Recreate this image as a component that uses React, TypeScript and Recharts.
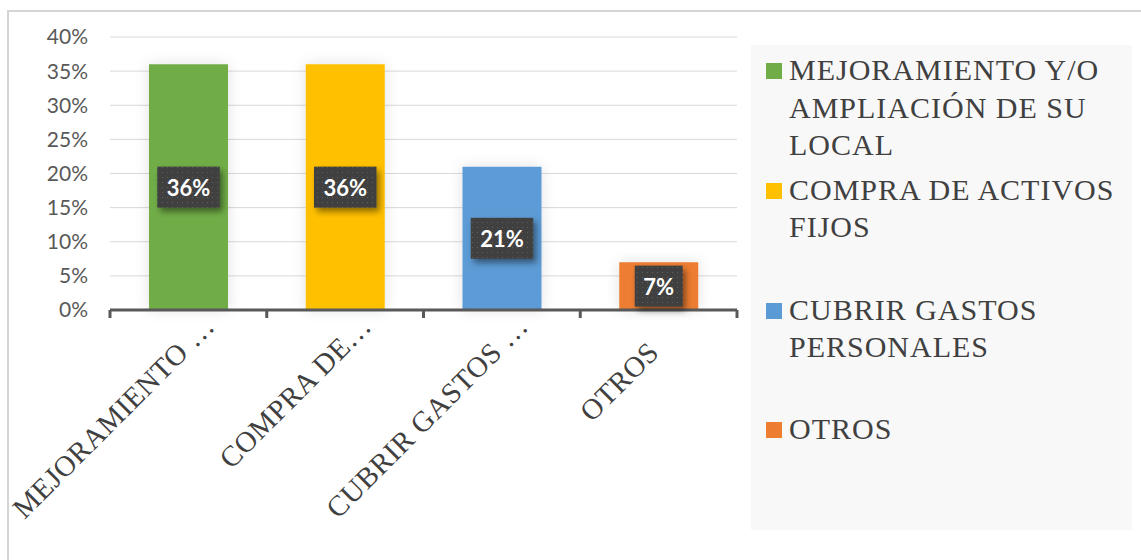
import { Bar, BarChart, CartesianGrid, LabelList, Rectangle, XAxis, YAxis } from "recharts";

const categories = [
  "MEJORAMIENTO Y/O AMPLIACIÓN DE SU LOCAL",
  "COMPRA DE ACTIVOS FIJOS",
  "CUBRIR GASTOS PERSONALES",
  "OTROS",
];
const tickLabels = ["MEJORAMIENTO …", "COMPRA DE…", "CUBRIR GASTOS …", "OTROS"];
const values = [0.36, 0.36, 0.21, 0.07];
const colors = ["#70ad47", "#ffc000", "#5b9bd5", "#ed7d31"];
const yTicks = [0, 0.05, 0.1, 0.15, 0.2, 0.25, 0.3, 0.35, 0.4];

const data = categories.map((name, i) => ({ name, short: tickLabels[i], value: values[i] }));

const pct = (v: number) => `${Math.round(v * 100)}%`;

function XTick(props: any) {
  const { x, y, payload, index } = props;
  const off = payload.offset ?? 0;
  const label: string = payload.value;
  // labels without ellipsis sit a bit further back along the slant
  const back = label.endsWith("…") ? 0 : 26;
  const ex = x + 28 - back;
  const ey = y + 18 + back;
  return (
    <g>
      <line x1={x - off} x2={x - off} y1={y} y2={y + 8} stroke="#595959" strokeWidth={3} />
      {index === tickLabels.length - 1 && (
        <line x1={x + off} x2={x + off} y1={y} y2={y + 8} stroke="#595959" strokeWidth={3} />
      )}
      <text
        x={ex}
        y={ey}
        textAnchor="end"
        transform={`rotate(-45, ${ex}, ${ey})`}
        fill="#404040"
        fontFamily="'Liberation Serif', 'Times New Roman', serif"
        fontSize={29}
        letterSpacing={0.5}
      >
        {label}
      </text>
    </g>
  );
}

function ColoredBar(props: any) {
  return <Rectangle {...props} fill={colors[props.index]} filter="url(#barGlow)" />;
}

function ValueLabel(props: any) {
  const { x, y, width, height, value } = props;
  const text = pct(value);
  const w = text.length * 14.5 + 19;
  const h = 41;
  const cx = x + width / 2;
  const cy = y + height / 2;
  return (
    <g>
      <rect x={cx - w / 2} y={cy - h / 2} width={w} height={h} fill="url(#dots)" filter="url(#boxShadow)" />
      <text
        x={cx}
        y={cy}
        textAnchor="middle"
        dominantBaseline="central"
        fill="#ffffff"
        fontFamily="Lato, 'Open Sans', sans-serif"
        fontWeight={700}
        fontSize={22}
      >
        {text}
      </text>
    </g>
  );
}

export default function App() {
  return (
    <div style={{ position: "absolute", left: 0, top: 0, width: 1141, height: 560, background: "#fff", overflow: "hidden" }}>
      <svg width={1} height={1} style={{ position: "absolute", left: 0, top: 0 }}>
        <defs>
          <pattern id="dots" width="5" height="5" patternUnits="userSpaceOnUse">
            <rect width="5" height="5" fill="#3f3f3f" />
            <rect x="2" y="2" width="1" height="1" fill="#5e5e5e" />
          </pattern>
          <filter id="boxShadow" x="-30%" y="-30%" width="170%" height="170%">
            <feDropShadow dx="3" dy="4" stdDeviation="3" floodColor="#000" floodOpacity="0.45" />
          </filter>
          <filter id="barGlow" x="-30%" y="-20%" width="160%" height="140%">
            <feDropShadow dx="0" dy="0" stdDeviation="7" floodColor="#000" floodOpacity="0.12" />
          </filter>
        </defs>
      </svg>
      <div
        style={{
          position: "absolute",
          left: 7,
          top: 10,
          width: 1150,
          height: 570,
          border: "2px solid #d4d4d4",
          boxSizing: "border-box",
        }}
      />
      <div style={{ position: "absolute", left: 0, top: 0 }}>
        <BarChart width={740} height={560} data={data} margin={{ top: 37, right: 3, bottom: 0, left: 0 }}>
          <CartesianGrid vertical={false} stroke="#d9d9d9" />
          <XAxis
            dataKey="short"
            interval={0}
            height={250}
            tickLine={false}
            tickSize={0}
            tickMargin={0}
            axisLine={{ stroke: "#595959", strokeWidth: 3 }}
            tick={<XTick />}
          />
          <YAxis
            width={110}
            domain={[0, 0.4]}
            ticks={yTicks}
            tickFormatter={pct}
            axisLine={false}
            tickLine={false}
            tickSize={0}
            tickMargin={22}
            tick={{ fill: "#595959", fontSize: 21, fontFamily: "Lato, 'Open Sans', sans-serif" }}
          />
          <Bar dataKey="value" barSize={79} shape={<ColoredBar />} isAnimationActive={false}>
            <LabelList dataKey="value" content={<ValueLabel />} />
          </Bar>
        </BarChart>
      </div>
      <div
        style={{
          position: "absolute",
          left: 751,
          top: 45,
          width: 381,
          height: 485,
          background: "#f8f8f8",
          paddingTop: 6,
          boxSizing: "border-box",
        }}
      >
        {categories.map((name, i) => (
          <div key={name} style={{ height: 119.75, display: "flex", alignItems: "flex-start" }}>
            <div
              style={{
                width: 16,
                height: 16,
                marginLeft: 15,
                marginTop: 12,
                marginRight: 7,
                background: colors[i],
                flexShrink: 0,
              }}
            />
            <div
              style={{
                width: 345,
                fontFamily: "'Liberation Serif', 'Times New Roman', serif",
                fontSize: 30,
                letterSpacing: 1,
                lineHeight: "37.5px",
                color: "#404040",
              }}
            >
              {name}
            </div>
          </div>
        ))}
      </div>
    </div>
  );
}
